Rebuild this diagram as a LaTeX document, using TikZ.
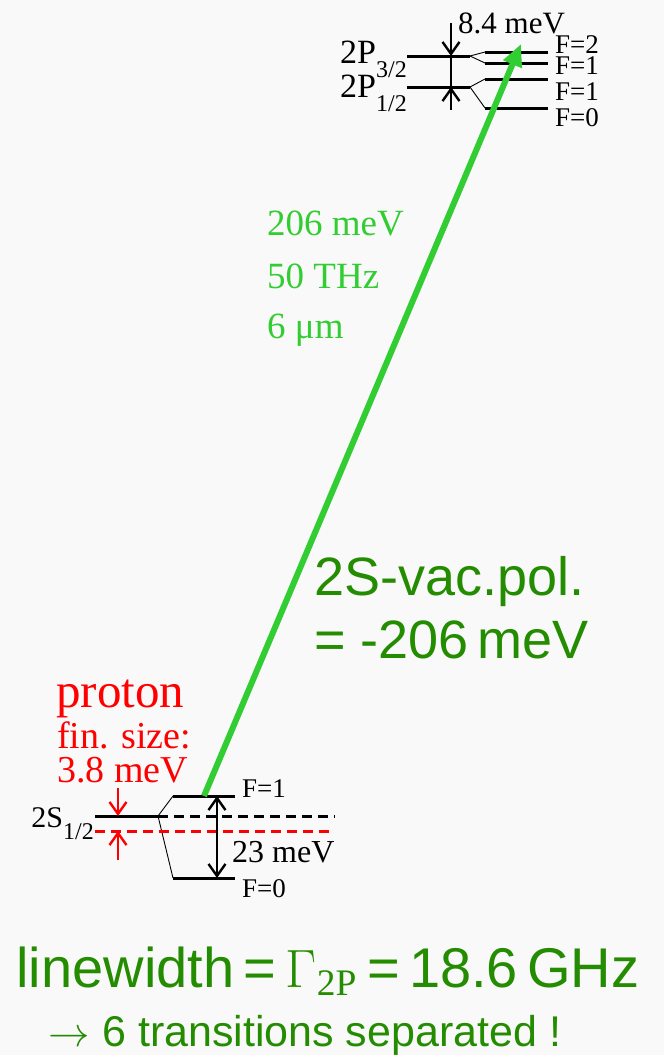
\documentclass[tikz,border=0pt]{standalone}
\usepackage{fontspec}
\setmainfont{Liberation Serif}
\setsansfont{Liberation Sans}
\usetikzlibrary{arrows.meta, positioning}
\definecolor{paper}{RGB}{249, 249, 249}
\definecolor{lasergreen}{RGB}{50, 205, 50}
\definecolor{darkgreen}{RGB}{36, 140, 0}
\newcommand{\fsz}[1]{\fontsize{#1}{#1}\selectfont}
\newcommand{\lowsub}[1]{\raisebox{-0.42em}{\fsz{24}#1}}
\newcommand{\bigmath}[2]{\scalebox{#1}{\fontsize{20.74}{20.74}\selectfont$#2$}}

\begin{document}
\begin{tikzpicture}[x=1pt, y=-1pt,
    level/.style={line width=3pt},
    split/.style={line width=0.9pt},
    barb/.style={-{Straight Barb[length=12pt, width=17pt]}},
    gaparrow/.style={line width=2.4pt, barb},
    dashlevel/.style={line width=3pt, dash pattern=on 10pt off 6pt},
    lbl/.style={inner sep=0pt, anchor=base west},
    flbl/.style={lbl, font=\fsz{27}},
    serif/.style={lbl, font=\fsz{32}}]
        \fill[paper] (0,0) rectangle (664,1055);
        \useasboundingbox (0,0) rectangle (664,1055);

        % 2P fine and hyperfine levels
        \coordinate (p32a) at (407,56); \coordinate (p32b) at (470,56);
        \coordinate (p12a) at (407,87); \coordinate (p12b) at (470,87);
        \draw[level] (p32a) -- (p32b);
        \draw[level] (p12a) -- (p12b);
        \foreach \y/\f/\b/\src in {52/2/53/p32b, 63/1/74/p32b, 79/1/100/p12b, 108/0/126/p12b} {
          \coordinate (hf\y a) at (485,\y);
          \coordinate (hf\y b) at (548,\y);
          \draw[level] (hf\y a) -- (hf\y b);
          \draw[split] (\src) -- (hf\y a);
          \node[flbl] (hfl\y) at (555,\b) {F=\f};
        }
        \node[lbl, anchor=base east, font=\fsz{34}] (p32lbl) at (407,63) {2P\lowsub{3/2}};
        \node[lbl, anchor=base east, font=\fsz{34}] (p12lbl) at (407,97) {2P\lowsub{1/2}};

        % fine structure splitting
        \coordinate (fsTop) at (451,23);
        \coordinate (fsBot) at (451,110);
        \coordinate (fsA) at (451,56);
        \coordinate (fsB) at (451,87);
        \draw[gaparrow] (fsTop) -- (fsA);
        \draw[gaparrow] (fsBot) -- (fsB);
        \draw[line width=2.4pt] (fsA) -- (fsB);
        \node[serif, font=\fsz{31}] (fslbl) at (458,33) {8.4 meV};

        % 2S levels
        \coordinate (s12a) at (95,816); \coordinate (s12b) at (158,816);
        \coordinate (sf1a) at (173,796); \coordinate (sf1b) at (235,796);
        \coordinate (sf0a) at (173,878); \coordinate (sf0b) at (235,878);
        \coordinate (vpEnd) at (335,816);
        \coordinate (redA) at (95,831); \coordinate (redB) at (335,831);
        \draw[level] (s12a) -- (s12b);
        \draw[level] (sf1a) -- (sf1b);
        \draw[level] (sf0a) -- (sf0b);
        \draw[split] (s12b) -- (sf1a);
        \draw[split] (s12b) -- (sf0a);
        \draw[dashlevel] (s12b) -- (vpEnd);
        \draw[dashlevel, red] (redA) -- (redB);
        \node[lbl, anchor=base east, font=\fsz{30}] (s12lbl) at (94,827) {2S\lowsub{1/2}};
        \node[flbl] (sf1lbl) at (242,797) {F=1};
        \node[flbl] (sf0lbl) at (242,897) {F=0};

        % 2S hyperfine splitting
        \coordinate (hfsTop) at (217,796);
        \coordinate (hfsBot) at (217,878);
        \draw[gaparrow, {Straight Barb[length=12pt, width=17pt]}-{Straight Barb[length=12pt, width=17pt]}] (hfsTop) -- (hfsBot);
        \node[serif] (hfslbl) at (232,862) {23 meV};

        % proton size shift
        \coordinate (psTop) at (118,788);
        \coordinate (psBot) at (118,860);
        \coordinate (psA) at (118,816);
        \coordinate (psB) at (118,831);
        \draw[gaparrow, red] (psTop) -- (psA);
        \draw[gaparrow, red] (psBot) -- (psB);
        \node[lbl, red, font=\fsz{49}] (ps1) at (56,707) {proton};
        \node[lbl, red, font=\fsz{38}] (ps2) at (57,748) {fin. size:};
        \node[lbl, red, font=\fsz{38}] (ps3) at (57,782) {3.8 meV};

        % laser transition
        \coordinate (laserTail) at (204,796);
        \coordinate (laserHead) at (521,44);
        \draw[lasergreen, line width=6pt, -{Triangle[length=22pt, width=19pt]}] (laserTail) -- (laserHead);
        \node[serif, lasergreen, font=\fsz{37}] (en) at (267,235) {206 meV};
        \node[serif, lasergreen, font=\fsz{37}] (fr) at (267,288) {50 THz};
        \node[serif, lasergreen, font=\fsz{37}] (wl) at (267,338) {6 μm};

        % vacuum polarisation
        \node[lbl, darkgreen, font=\sffamily\fsz{54}] (vp1) at (314,595) {2S-vac.pol.};
        \node[lbl, darkgreen, font=\sffamily\fsz{54}] (vp2) at (314,658) {= -206\,meV};

        % linewidth
        \node[lbl, anchor=base, darkgreen, font=\sffamily\fsz{56}] (lw1) at (328,987)
          {linewidth\,=\,\bigmath{2.6}{\Gamma_{\mathrm{2P}}}\,=\,18.6\,GHz};
        \node[lbl, anchor=base, darkgreen, font=\sffamily\fsz{43}] (lw2) at (305,1046)
          {\bigmath{2.0}{\rightarrow} 6 transitions separated !};
\end{tikzpicture}
\end{document}
